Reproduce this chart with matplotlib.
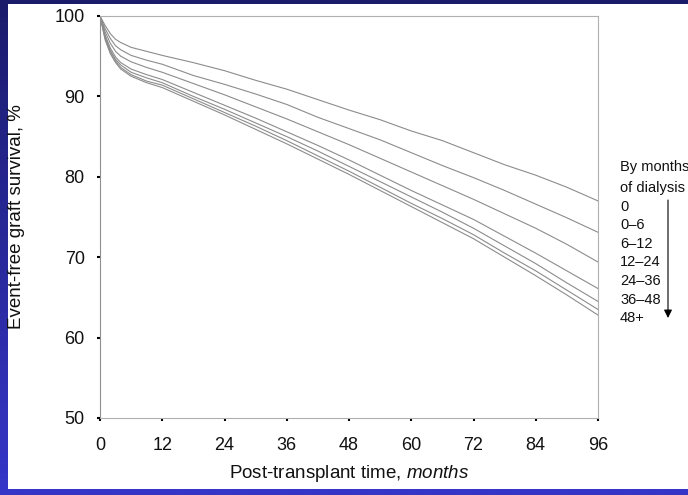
#event-free graft survival by months of dialysis before transplant
import matplotlib
matplotlib.use('Agg')
import matplotlib.pyplot as plt
import numpy as np
from matplotlib.patches import Rectangle

plt.rcParams['font.family'] = ['Liberation Sans', 'DejaVu Sans']
plt.rcParams['mathtext.fontset'] = 'custom'
plt.rcParams['mathtext.rm'] = 'Liberation Sans'
plt.rcParams['mathtext.it'] = 'Liberation Sans:italic'

months = [0, 1, 2, 3, 4, 6, 9, 12, 18, 24, 30, 36, 42, 48, 54, 60, 66, 72, 78, 84, 90, 96]

surv_0 = [100, 98.8, 97.8, 97.1, 96.7, 96.1, 95.6, 95.1, 94.2, 93.2, 92.0, 90.9, 89.6, 88.3,
          87.1, 85.7, 84.5, 83.0, 81.5, 80.2, 78.7, 77.0]
surv_0_6 = [100, 98.4, 97.2, 96.3, 95.8, 95.1, 94.5, 94.0, 92.6, 91.5, 90.3, 89.0, 87.4, 86.0,
            84.6, 83.0, 81.4, 79.9, 78.3, 76.6, 74.9, 73.1]
surv_6_12 = [100, 98.0, 96.6, 95.6, 95.0, 94.3, 93.6, 93.0, 91.6, 90.2, 88.7, 87.2, 85.6, 84.0,
             82.3, 80.6, 78.9, 77.2, 75.4, 73.6, 71.6, 69.4]
surv_12_24 = [100, 97.6, 96.0, 94.9, 94.2, 93.4, 92.7, 92.1, 90.5, 88.9, 87.3, 85.6, 83.9, 82.1,
              80.2, 78.3, 76.5, 74.7, 72.6, 70.5, 68.3, 66.1]
surv_24_36 = [100, 97.4, 95.7, 94.6, 93.9, 93.0, 92.3, 91.7, 90.0, 88.4, 86.7, 85.0, 83.2, 81.3,
              79.4, 77.5, 75.6, 73.6, 71.4, 69.2, 66.8, 64.5]
surv_36_48 = [100, 97.2, 95.5, 94.4, 93.6, 92.7, 91.9, 91.4, 89.7, 88.0, 86.3, 84.5, 82.6, 80.7,
              78.7, 76.7, 74.8, 72.8, 70.5, 68.3, 65.9, 63.5]
surv_48p = [100, 97.0, 95.3, 94.2, 93.4, 92.5, 91.7, 91.1, 89.4, 87.7, 85.9, 84.1, 82.2, 80.3,
            78.3, 76.3, 74.3, 72.3, 70.0, 67.7, 65.3, 62.8]

groups = ['0', '0\u20136', '6\u201312', '12\u201324', '24\u201336', '36\u201348', '48+']
curves = [surv_0, surv_0_6, surv_6_12, surv_12_24, surv_24_36, surv_36_48, surv_48p]

W, H = 688, 495
fig = plt.figure(figsize=(W/100, H/100), dpi=100)

# blue slide background + white panel
bg = fig.add_axes([0, 0, 1, 1], zorder=-1)
grad = np.linspace(0, 1, 256).reshape(-1, 1)
top = np.array([0x1b, 0x1b, 0x6c]) / 255.
bot = np.array([0x36, 0x36, 0xc9]) / 255.
img = top + grad[..., None] * (bot - top)
bg.imshow(img, aspect='auto', extent=[0, 1, 0, 1], origin='upper')
bg.add_patch(Rectangle((8/W, 1 - 489/H), 1, (489-4)/H, transform=bg.transAxes,
                       facecolor='white', edgecolor='none'))
bg.set_xlim(0, 1)
bg.set_ylim(0, 1)
bg.set_axis_off()

ax = fig.add_axes([100/W, 1 - 418/H, 498/W, (418-16)/H])
ax.set_facecolor('none')

for y in curves:
    ax.plot(months, y, color='#8c8c8c', lw=0.8)

ax.set_xlim(0, 96)
ax.set_ylim(50, 100)
ax.set_xticks(range(0, 97, 12))
ax.set_yticks(range(50, 101, 10))
for s in ax.spines.values():
    s.set_color('#b0b0b0')
    s.set_linewidth(0.8)
ax.spines['left'].set_color('#909090')
ax.tick_params(direction='out', length=2, width=1.5, color='black', labelsize=13,
               labelcolor='#111111')
ax.tick_params(axis='y', pad=9)
ax.tick_params(axis='x', pad=12)

ax.set_ylabel('Event-free graft survival, %', fontsize=13.5, va='center', color='#111111')
ax.yaxis.set_label_coords((17 - 100) / 498, 0.5)
ax.set_xlabel('Post-transplant time, $\\it{months}$', fontsize=13.5, va='center', color='#111111')
ax.xaxis.set_label_coords(0.5, (418 - 474) / 402)

# group key on the right
lx = 620 / W
fig.text(lx, 1 - 167/H, 'By months', fontsize=10.5, va='center', color='#111111')
fig.text(lx, 1 - 188/H, 'of dialysis', fontsize=10.5, va='center', color='#111111')
for i, g in enumerate(groups):
    fig.text(lx, 1 - (207 + 18.5*i)/H, g, fontsize=10.5, va='center', color='#111111')

ax.annotate('', xy=(668/W, 1 - 318/H), xytext=(668/W, 1 - 200/H),
            xycoords='figure fraction', textcoords='figure fraction',
            arrowprops=dict(arrowstyle='-|>', color='black', lw=0.8,
                            mutation_scale=12, shrinkA=0, shrinkB=0),
            annotation_clip=False)

fig.savefig('out.png', dpi=100)
